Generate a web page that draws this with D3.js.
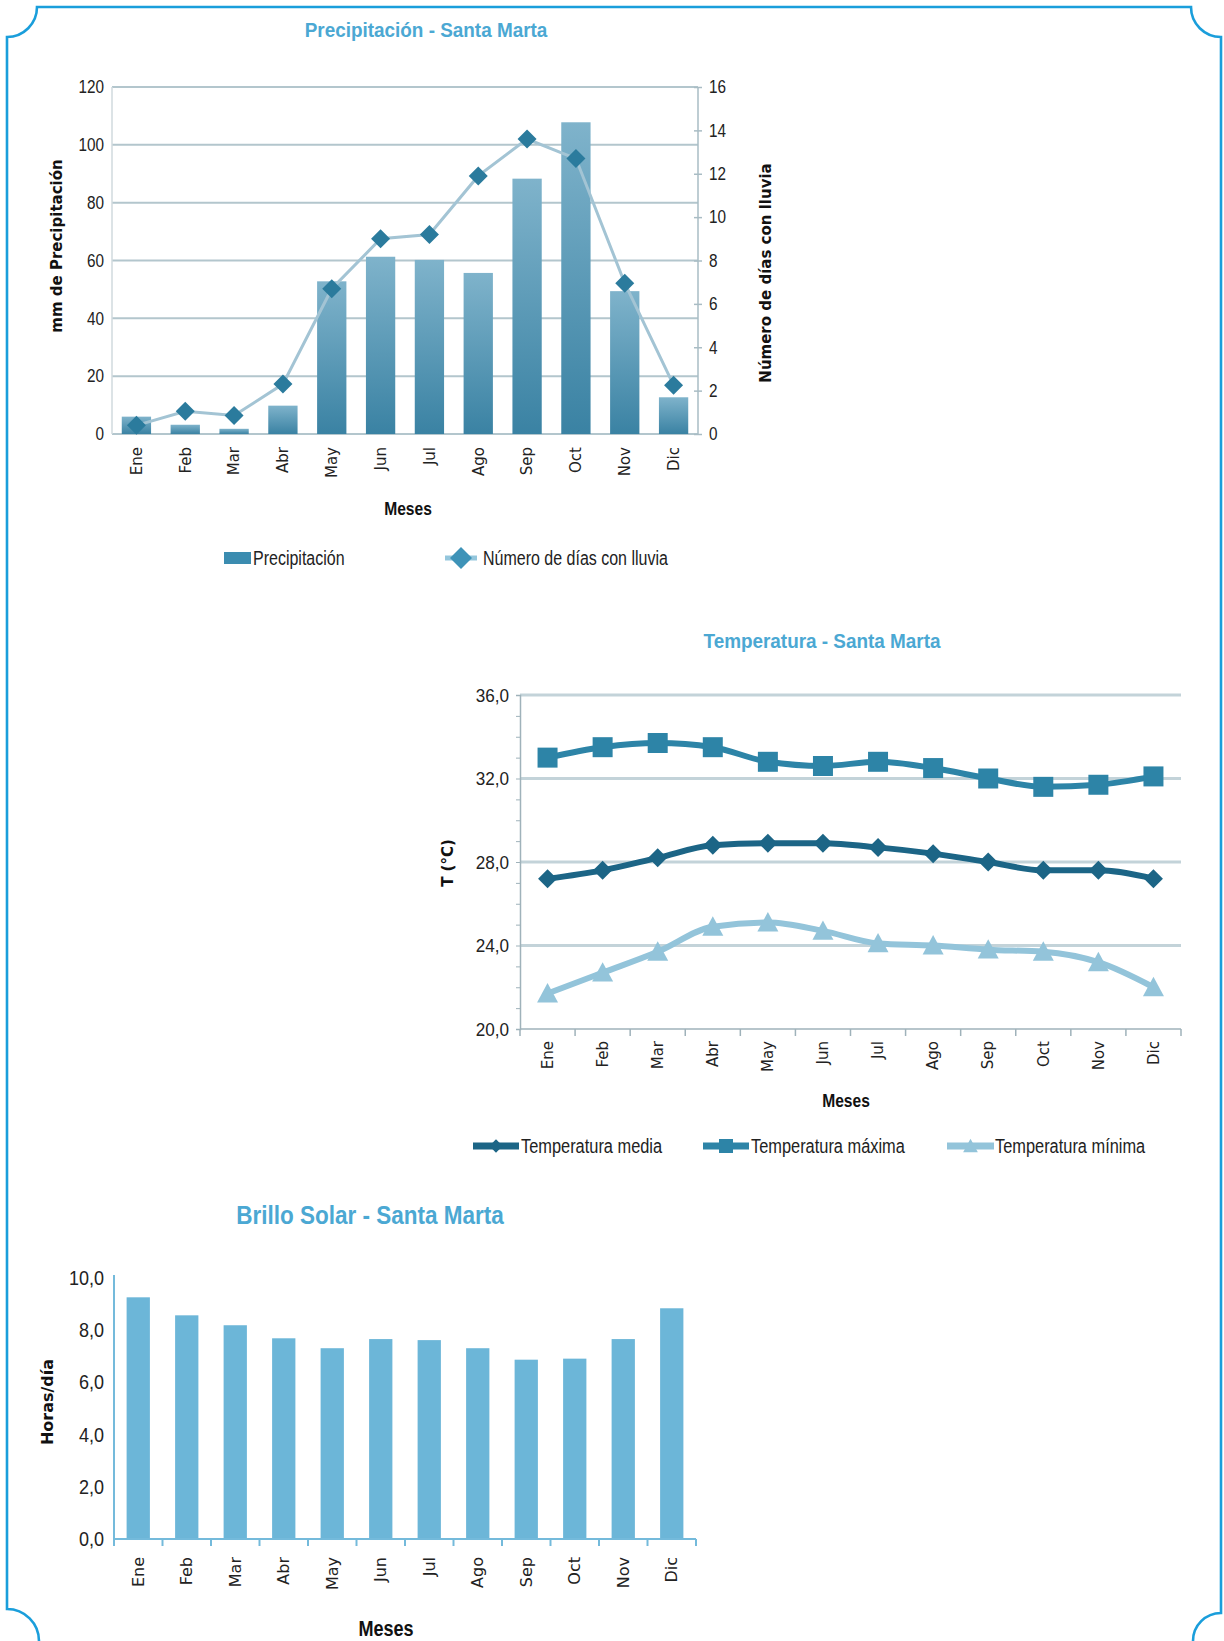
<!DOCTYPE html>
<html>
<head>
<meta charset="utf-8">
<script src="https://cdn.jsdelivr.net/npm/d3@7"></script>
<style>
  body { margin: 0; background: #fff; }
  .num { font-family: "Liberation Sans", Arial, sans-serif; font-size: 18px; fill: #222; }
  .mes { font-family: "DejaVu Sans", Verdana, sans-serif; font-size: 15px; fill: #222; }
  .atitle { font-family: "DejaVu Sans", Verdana, sans-serif; font-size: 15px; font-weight: bold; fill: #111; }
  .meses { font-family: "Liberation Sans", Arial, sans-serif; font-size: 19px; font-weight: bold; fill: #111; }
  .title { font-family: "Liberation Sans", Arial, sans-serif; font-size: 21px; font-weight: bold; fill: #4ba8d3; }
  .leg { font-family: "Liberation Sans", Arial, sans-serif; font-size: 19.5px; fill: #222; }
</style>
</head>
<body>
<div id="page"></div>
<script>
// ---- data ----
var months = ["Ene", "Feb", "Mar", "Abr", "May", "Jun", "Jul", "Ago", "Sep", "Oct", "Nov", "Dic"];

var precipitacion = [6.0, 3.2, 1.8, 9.8, 52.8, 61.3, 60.2, 55.7, 88.3, 107.8, 49.4, 12.7];
var diasLluvia = [0.4, 1.05, 0.85, 2.3, 6.7, 9.0, 9.2, 11.9, 13.6, 12.7, 6.95, 2.25];
var precipTicks = [0, 20, 40, 60, 80, 100, 120];
var diasTicks = [0, 2, 4, 6, 8, 10, 12, 14, 16];

var tempMedia = [27.2, 27.6, 28.2, 28.8, 28.9, 28.9, 28.7, 28.4, 28.0, 27.6, 27.6, 27.2];
var tempMaxima = [33.0, 33.5, 33.7, 33.5, 32.8, 32.6, 32.8, 32.5, 32.0, 31.6, 31.7, 32.1];
var tempMinima = [21.7, 22.7, 23.7, 24.9, 25.1, 24.7, 24.1, 24.0, 23.8, 23.7, 23.2, 22.0];
var tempTicks = [20, 24, 28, 32, 36];

var brilloSolar = [9.26, 8.57, 8.19, 7.69, 7.31, 7.66, 7.62, 7.31, 6.87, 6.91, 7.66, 8.84];
var brilloTicks = [0, 2, 4, 6, 8, 10];

var comma = function (v) { return d3.format(".1f")(v).replace(".", ","); };

// squeeze text horizontally, the original uses a condensed face
function condense(sel, f) {
    sel.each(function () {
        var w = this.getComputedTextLength();
        d3.select(this).attr("textLength", w * f).attr("lengthAdjust", "spacingAndGlyphs");
    });
}

var svg = d3.select("#page").append("svg")
    .attr("width", 1224)
    .attr("height", 1641);

var defs = svg.append("defs");
var grad = defs.append("linearGradient")
    .attr("id", "precipGrad")
    .attr("x1", 0).attr("y1", 0).attr("x2", 0).attr("y2", 1);
grad.append("stop").attr("offset", "0%").attr("stop-color", "#7fb3cb");
grad.append("stop").attr("offset", "100%").attr("stop-color", "#3a82a3");

// page frame with inverted corners
svg.append("path")
    .attr("d", "M39,1641 A32,32 0 0 0 7,1609 L7,37 A30,30 0 0 0 37,7 L1191,7 " +
               "A30,30 0 0 0 1221,37 L1221,1613 A28,28 0 0 0 1193,1641")
    .attr("fill", "none")
    .attr("stroke", "#1a9edb")
    .attr("stroke-width", 2.6);

// marker shapes (relative to point)
function diamond(r) { return "M0," + (-r) + "L" + r + ",0L0," + r + "L" + (-r) + ",0Z"; }
function square(r) { return "M" + (-r) + "," + (-r) + "h" + (2 * r) + "v" + (2 * r) + "h" + (-2 * r) + "Z"; }
function triangle(r) { return "M0," + (-r) + "L" + r + "," + (r * 0.85) + "L" + (-r) + "," + (r * 0.85) + "Z"; }

////////////////////////////////////////////////////////////////////////
// Precipitación
////////////////////////////////////////////////////////////////////////
var p = { left: 112, right: 698, top: 87, bottom: 434 };
var xP = d3.scaleBand().domain(months).range([p.left, p.right]).paddingInner(0.4).paddingOuter(0.2);
var yP = d3.scaleLinear().domain([0, 120]).range([p.bottom, p.top]);
var yD = d3.scaleLinear().domain([0, 16]).range([p.bottom, p.top]);
var cP = function (m) { return xP(m) + xP.bandwidth() / 2; };

var gP = svg.append("g");

gP.append("text").attr("class", "title")
    .attr("x", 426).attr("y", 29).attr("text-anchor", "middle").attr("dominant-baseline", "central")
    .text("Precipitación - Santa Marta")
    .call(condense, 0.9);

gP.selectAll(".grid")
    .data(precipTicks)
  .enter().append("line")
    .attr("x1", p.left).attr("x2", p.right)
    .attr("y1", function (d) { return yP(d); })
    .attr("y2", function (d) { return yP(d); })
    .style("stroke", "#b3c6cd")
    .style("stroke-width", 2);

gP.append("line")
    .attr("x1", p.left).attr("x2", p.left).attr("y1", p.top).attr("y2", p.bottom)
    .style("stroke", "#d0dade").style("stroke-width", 1.5);
gP.append("line")
    .attr("x1", p.right).attr("x2", p.right).attr("y1", p.top).attr("y2", p.bottom)
    .style("stroke", "#a9bcc4").style("stroke-width", 1.5);

gP.selectAll(".bar")
    .data(precipitacion)
  .enter().append("rect")
    .attr("x", function (d, i) { return xP(months[i]); })
    .attr("y", function (d) { return yP(d); })
    .attr("width", xP.bandwidth())
    .attr("height", function (d) { return yP(0) - yP(d); })
    .style("fill", "url(#precipGrad)");

var lineD = d3.line()
    .x(function (d, i) { return cP(months[i]); })
    .y(function (d) { return yD(d); });

gP.append("path")
    .datum(diasLluvia)
    .attr("d", lineD)
    .style("fill", "none")
    .style("stroke", "#a3c4d4")
    .style("stroke-width", 3);

gP.selectAll(".dia")
    .data(diasLluvia)
  .enter().append("path")
    .attr("d", diamond(9.5))
    .attr("transform", function (d, i) { return "translate(" + cP(months[i]) + "," + yD(d) + ")"; })
    .style("fill", "#2b7b9d");

var axL = gP.append("g")
    .attr("transform", "translate(" + p.left + ",0)")
    .call(d3.axisLeft(yP).tickValues(precipTicks).tickSize(0).tickPadding(8));
axL.select(".domain").remove();
axL.selectAll("text").attr("class", "num").call(condense, 0.85);

var axR = gP.append("g")
    .attr("transform", "translate(" + p.right + ",0)")
    .call(d3.axisRight(yD).tickValues(diasTicks).tickSize(4).tickPadding(7));
axR.select(".domain").remove();
axR.selectAll("line").attr("x1", -4).style("stroke", "#a9bcc4").style("stroke-width", 1.5);
axR.selectAll("text").attr("class", "num").call(condense, 0.85);

var axB = gP.append("g")
    .attr("transform", "translate(0," + p.bottom + ")")
    .call(d3.axisBottom(xP).tickSize(0));
axB.select(".domain").remove();
axB.selectAll("text")
    .attr("class", "mes")
    .attr("transform", "rotate(-90)")
    .attr("text-anchor", "end")
    .attr("x", -13).attr("y", 0).attr("dy", "0.35em");

gP.append("text").attr("class", "atitle")
    .attr("transform", "translate(57,246) rotate(-90)")
    .attr("text-anchor", "middle").attr("dominant-baseline", "central")
    .text("mm de Precipitación");
gP.append("text").attr("class", "atitle")
    .attr("transform", "translate(766,273) rotate(-90)")
    .attr("text-anchor", "middle").attr("dominant-baseline", "central")
    .text("Número de días con lluvia");
gP.append("text").attr("class", "meses")
    .attr("x", 408).attr("y", 508).attr("text-anchor", "middle").attr("dominant-baseline", "central")
    .text("Meses")
    .call(condense, 0.82);

// legend
gP.append("rect").attr("x", 224).attr("y", 552).attr("width", 27).attr("height", 12).style("fill", "#3b8cb0");
gP.append("text").attr("class", "leg").attr("x", 253).attr("y", 558).attr("dominant-baseline", "central")
    .text("Precipitación").call(condense, 0.82);
gP.append("line").attr("x1", 445).attr("x2", 477).attr("y1", 558).attr("y2", 558)
    .style("stroke", "#94c6dc").style("stroke-width", 5);
gP.append("path").attr("d", diamond(11)).attr("transform", "translate(461,558)").style("fill", "#3e93b8");
gP.append("text").attr("class", "leg").attr("x", 483).attr("y", 558).attr("dominant-baseline", "central")
    .text("Número de días con lluvia").call(condense, 0.82);

////////////////////////////////////////////////////////////////////////
// Temperatura
////////////////////////////////////////////////////////////////////////
var t = { left: 520, right: 1181, top: 695, bottom: 1029 };
var xT = d3.scaleBand().domain(months).range([t.left, t.right]);
var yT = d3.scaleLinear().domain([20, 36]).range([t.bottom, t.top]);
var cT = function (m) { return xT(m) + xT.bandwidth() / 2; };

var gT = svg.append("g");

gT.append("text").attr("class", "title")
    .attr("x", 822).attr("y", 640).attr("text-anchor", "middle").attr("dominant-baseline", "central")
    .text("Temperatura - Santa Marta")
    .call(condense, 0.9);

gT.selectAll(".grid")
    .data(tempTicks.slice(1))
  .enter().append("line")
    .attr("x1", t.left).attr("x2", t.right)
    .attr("y1", function (d) { return yT(d); })
    .attr("y2", function (d) { return yT(d); })
    .style("stroke", "#c3d3d9")
    .style("stroke-width", 3);

var axTL = gT.append("g")
    .attr("transform", "translate(" + t.left + ",0)")
    .call(d3.axisLeft(yT).ticks(16).tickSize(4).tickFormat(""));
axTL.select(".domain").style("stroke", "#9fb2ba").style("stroke-width", 1.5);
axTL.selectAll("line").style("stroke", "#9fb2ba");

var axTLab = gT.append("g")
    .attr("transform", "translate(" + t.left + ",0)")
    .call(d3.axisLeft(yT).tickValues(tempTicks).tickSize(0).tickPadding(11).tickFormat(comma));
axTLab.select(".domain").remove();
axTLab.selectAll("text").attr("class", "num").style("font-size", "19px").call(condense, 0.9);

gT.append("line")
    .attr("x1", t.left).attr("x2", t.right).attr("y1", t.bottom).attr("y2", t.bottom)
    .style("stroke", "#9fb2ba").style("stroke-width", 1.5);
gT.selectAll(".xt")
    .data(months.concat([null]))
  .enter().append("line")
    .attr("x1", function (d) { return d === null ? t.right : xT(d); })
    .attr("x2", function (d) { return d === null ? t.right : xT(d); })
    .attr("y1", t.bottom).attr("y2", t.bottom + 7)
    .style("stroke", "#9fb2ba").style("stroke-width", 1.5);

var axTB = gT.append("g")
    .attr("transform", "translate(0," + t.bottom + ")")
    .call(d3.axisBottom(xT).tickSize(0));
axTB.select(".domain").remove();
axTB.selectAll("text")
    .attr("class", "mes")
    .attr("transform", "rotate(-90)")
    .attr("text-anchor", "end")
    .attr("x", -12).attr("y", 0).attr("dy", "0.35em");

var tempSeries = [
    { name: "Temperatura mínima", values: tempMinima, color: "#93c4da", marker: triangle(10.5) },
    { name: "Temperatura media", values: tempMedia, color: "#1c6586", marker: diamond(9.5) },
    { name: "Temperatura máxima", values: tempMaxima, color: "#2d84a7", marker: square(10) }
];

var lineT = d3.line()
    .x(function (d, i) { return cT(months[i]); })
    .y(function (d) { return yT(d); })
    .curve(d3.curveMonotoneX);

tempSeries.forEach(function (s) {
    gT.append("path")
        .datum(s.values)
        .attr("d", lineT)
        .style("fill", "none")
        .style("stroke", s.color)
        .style("stroke-width", 6)
        .style("stroke-linejoin", "round");
    gT.selectAll(null)
        .data(s.values)
      .enter().append("path")
        .attr("d", s.marker)
        .attr("transform", function (d, i) { return "translate(" + cT(months[i]) + "," + yT(d) + ")"; })
        .style("fill", s.color);
});

gT.append("text").attr("class", "atitle")
    .attr("transform", "translate(448,863) rotate(-90)")
    .attr("text-anchor", "middle").attr("dominant-baseline", "central")
    .text("T (°C)");
gT.append("text").attr("class", "meses")
    .attr("x", 846).attr("y", 1100).attr("text-anchor", "middle").attr("dominant-baseline", "central")
    .text("Meses")
    .call(condense, 0.82);

// legend
var legT = [
    { s: tempSeries[1], x1: 473, x2: 519, tx: 521 },
    { s: tempSeries[2], x1: 703, x2: 749, tx: 751 },
    { s: tempSeries[0], x1: 947, x2: 994, tx: 995 }
];
legT.forEach(function (l) {
    gT.append("line").attr("x1", l.x1).attr("x2", l.x2).attr("y1", 1146).attr("y2", 1146)
        .style("stroke", l.s.color).style("stroke-width", 7);
    gT.append("path").attr("d", l.s.marker).attr("transform", "translate(" + ((l.x1 + l.x2) / 2) + ",1146) scale(0.7)")
        .style("fill", l.s.color);
    gT.append("text").attr("class", "leg").attr("x", l.tx).attr("y", 1146).attr("dominant-baseline", "central")
        .text(l.s.name).call(condense, 0.84);
});

////////////////////////////////////////////////////////////////////////
// Brillo Solar
////////////////////////////////////////////////////////////////////////
var b = { left: 114, right: 696, top: 1278, bottom: 1539 };
var xB = d3.scaleBand().domain(months).range([b.left, b.right]).paddingInner(0.52).paddingOuter(0.26);
var yB = d3.scaleLinear().domain([0, 10]).range([b.bottom, b.top]);

var gB = svg.append("g");

gB.append("text").attr("class", "title").style("font-size", "25px")
    .attr("x", 370).attr("y", 1215).attr("text-anchor", "middle").attr("dominant-baseline", "central")
    .text("Brillo Solar - Santa Marta")
    .call(condense, 0.9);

gB.selectAll(".bar")
    .data(brilloSolar)
  .enter().append("rect")
    .attr("x", function (d, i) { return xB(months[i]); })
    .attr("y", function (d) { return yB(d); })
    .attr("width", xB.bandwidth())
    .attr("height", function (d) { return yB(0) - yB(d); })
    .style("fill", "#6cb6d8");

gB.append("line")
    .attr("x1", b.left).attr("x2", b.left).attr("y1", b.top - 3).attr("y2", b.bottom + 7)
    .style("stroke", "#74badb").style("stroke-width", 2);
gB.append("line")
    .attr("x1", b.left).attr("x2", b.right).attr("y1", b.bottom).attr("y2", b.bottom)
    .style("stroke", "#74badb").style("stroke-width", 2);
gB.selectAll(".xt")
    .data(months.concat([null]))
  .enter().append("line")
    .attr("x1", function (d) { return d === null ? b.right : xB(d) - xB.step() * xB.paddingInner() / 2; })
    .attr("x2", function (d) { return d === null ? b.right : xB(d) - xB.step() * xB.paddingInner() / 2; })
    .attr("y1", b.bottom).attr("y2", b.bottom + 7)
    .style("stroke", "#74badb").style("stroke-width", 2);

var axBL = gB.append("g")
    .attr("transform", "translate(" + b.left + ",0)")
    .call(d3.axisLeft(yB).tickValues(brilloTicks).tickSize(0).tickPadding(10).tickFormat(comma));
axBL.select(".domain").remove();
axBL.selectAll("text").attr("class", "num").style("font-size", "20px").call(condense, 0.9);

var axBB = gB.append("g")
    .attr("transform", "translate(0," + b.bottom + ")")
    .call(d3.axisBottom(xB).tickSize(0));
axBB.select(".domain").remove();
axBB.selectAll("text")
    .attr("class", "mes")
    .style("font-size", "16px")
    .attr("transform", "rotate(-90)")
    .attr("text-anchor", "end")
    .attr("x", -18).attr("y", 0).attr("dy", "0.35em");

gB.append("text").attr("class", "atitle").style("font-size", "16px")
    .attr("transform", "translate(47,1402) rotate(-90)")
    .attr("text-anchor", "middle").attr("dominant-baseline", "central")
    .text("Horas/día");
gB.append("text").attr("class", "meses").style("font-size", "22px")
    .attr("x", 386).attr("y", 1628).attr("text-anchor", "middle").attr("dominant-baseline", "central")
    .text("Meses")
    .call(condense, 0.82);
</script>
</body>
</html>
